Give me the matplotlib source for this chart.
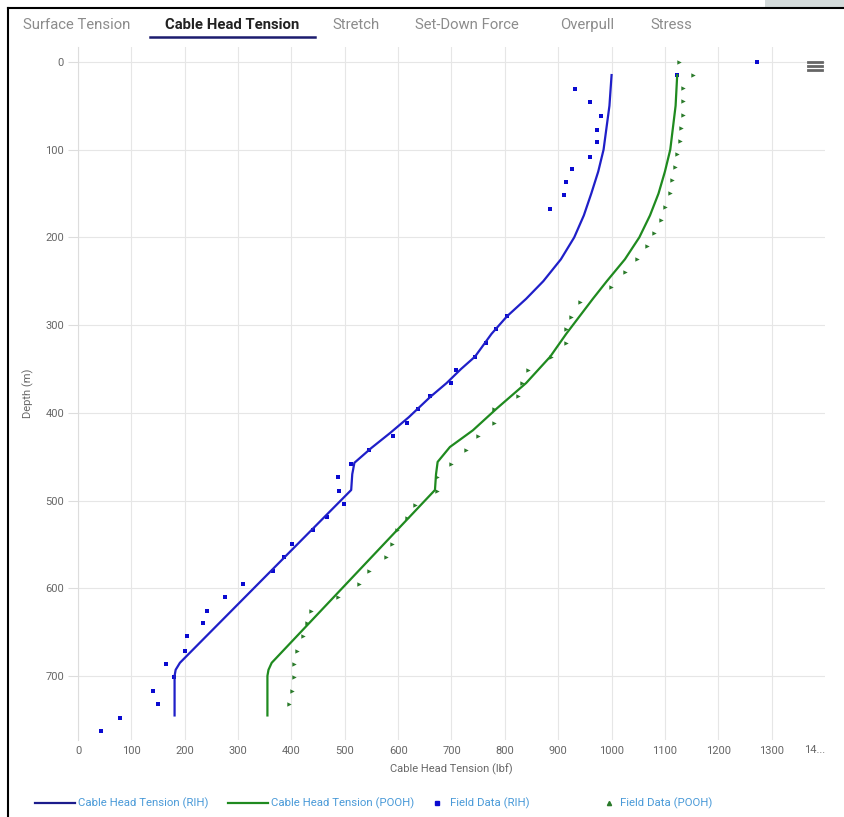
import matplotlib
matplotlib.use("Agg")
import matplotlib.pyplot as plt
from matplotlib.lines import Line2D
from matplotlib.patches import Rectangle

plt.rcParams['font.family'] = ['Roboto', 'DejaVu Sans']

# model curves (tension lbf vs depth m)
rih_line_depth = [15, 50, 100, 125, 150, 175, 200, 225, 250, 270, 290, 310, 336, 350, 366, 382, 405, 423, 440,
                  457, 470, 488, 685, 693, 700, 745]
rih_line = [1000, 996, 985, 975, 962, 948, 930, 905, 872, 840, 804, 775, 744, 718, 691, 660, 620, 585, 550,
            518, 514, 512, 191, 183, 181, 181]

pooh_line_depth = [15, 50, 100, 125, 150, 175, 200, 225, 250, 270, 290, 310, 336, 366, 395, 420, 439, 456, 470,
                   488, 685, 693, 700, 745]
pooh_line = [1123, 1120, 1110, 1100, 1088, 1072, 1052, 1025, 991, 965, 940, 915, 885, 840, 785, 740, 697, 674, 671,
             669, 363, 357, 355, 355]

# field data
rih_field_depth = [0, 15, 31, 46, 62, 78, 91, 108, 122, 137, 152, 168,
                   290, 305, 321, 336, 351, 366, 381, 396, 412, 427, 442, 458, 473, 489, 504, 519,
                   534, 550, 564, 580, 595, 610, 626, 640, 655, 672, 686, 701, 717, 732, 748, 763]
rih_field = [1272, 1123, 932, 960, 981, 972, 972, 960, 925, 915, 910, 885,
             804, 784, 764, 744, 708, 699, 660, 637, 617, 590, 545, 512, 487, 489, 498, 467,
             441, 402, 386, 366, 310, 275, 241, 235, 205, 201, 165, 180, 140, 149, 78, 44]

pooh_field_depth = [0, 15, 30, 45, 60, 75, 90, 105, 120, 135, 150, 165, 180, 195, 210, 225, 240, 257,
                    274, 291, 305, 320, 336, 351, 366, 381, 396, 412, 427, 442, 458, 473, 489,
                    505, 520, 534, 550, 564, 580, 595, 610, 626, 640, 655, 672, 686, 701, 717, 732]
pooh_field = [1127, 1153, 1133, 1133, 1133, 1131, 1129, 1122, 1118, 1114, 1109, 1101, 1092, 1080, 1066, 1048, 1025, 998,
              940, 924, 915, 915, 886, 844, 832, 824, 780, 779, 749, 727, 699, 672, 672,
              632, 617, 597, 588, 577, 546, 527, 487, 437, 430, 421, 410, 405, 405, 401, 396]

tabs = ["Surface Tension", "Cable Head Tension", "Stretch", "Set-Down Force", "Overpull", "Stress"]
tab_x = [23, 165, 332, 415, 560, 650]

W, H = 845, 817
fig = plt.figure(figsize=(W / 100, H / 100), dpi=100)


def fx(px):
    return px / W


def fy(py):
    return 1 - py / H


ax = fig.add_axes([fx(78), fy(740), fx(825) - fx(78), fy(47) - fy(740)])

blue = '#1f1fc8'
green = '#1f8a1f'
ax.plot(rih_line, rih_line_depth, color=blue, lw=1.6)
ax.plot(pooh_line, pooh_line_depth, color=green, lw=1.6)
ax.scatter(rih_field, rih_field_depth, marker='s', s=9, color='#0a0ad0', lw=0)
ax.scatter(pooh_field, pooh_field_depth, marker='>', s=10, color='#2a7a2a', lw=0)

ax.set_xlim(0, 1400)
ax.set_ylim(773, -17)
ax.set_xticks(range(0, 1400, 100))
ax.set_yticks(range(0, 800, 100))
ax.text(1400, -10 / 693, "14...", ha='right', va='center', fontsize=8, color='#666666',
        transform=ax.get_xaxis_transform())
ax.grid(True, color='#e6e6e6', lw=0.8)
ax.set_axisbelow(True)
for s in ['top', 'right', 'bottom']:
    ax.spines[s].set_visible(False)
ax.spines['left'].set_color('#dddddd')
ax.tick_params(axis='x', length=0, pad=4, labelsize=8, labelcolor='#666666')
ax.tick_params(axis='y', length=7, color='#dddddd', pad=3, labelsize=8, labelcolor='#666666')
ax.set_xlabel("Cable Head Tension (lbf)", fontsize=8, color='#666666', labelpad=6)
ax.set_ylabel("Depth (m)", fontsize=8, color='#666666', labelpad=8)

# tabs
for t, x in zip(tabs, tab_x):
    active = t == "Cable Head Tension"
    fig.text(fx(x), fy(25), t, fontsize=10.7, va='center', ha='left',
             color='#222222' if active else '#8c8c8c', fontweight='bold' if active else 'normal')
fig.add_artist(Line2D([fx(150), fx(315)], [fy(37), fy(37)], color='#1c1c6e', lw=1.8))

# screenshot frame
fig.add_artist(Line2D([fx(8), fx(8)], [fy(8), 0], color='black', lw=1.5))
fig.add_artist(Line2D([fx(8), 1], [fy(8), fy(8)], color='black', lw=1.5))
fig.add_artist(Rectangle((fx(765), fy(7)), 1 - fx(765), 1 - fy(7), color='#d3dada', lw=0))

# menu icon
for yy in [62, 66, 70]:
    fig.add_artist(Line2D([fx(808), fx(822)], [fy(yy), fy(yy)], color='#666666', lw=2))

# legend
ly = fy(803)
lc = '#4a9ad8'
fig.add_artist(Line2D([fx(35), fx(75)], [ly, ly], color='#1c1c8c', lw=1.6))
fig.text(fx(78), ly, "Cable Head Tension (RIH)", fontsize=8.2, va='center', color=lc)
fig.add_artist(Line2D([fx(228), fx(268)], [ly, ly], color=green, lw=1.6))
fig.text(fx(271), ly, "Cable Head Tension (POOH)", fontsize=8.2, va='center', color=lc)
fig.add_artist(Line2D([fx(437)], [ly], marker='s', ms=3, color='#0a0ad0', lw=0))
fig.text(fx(450), ly, "Field Data (RIH)", fontsize=8.2, va='center', color=lc)
fig.add_artist(Line2D([fx(609)], [ly], marker='^', ms=3, color='#2a7a2a', lw=0))
fig.text(fx(620), ly, "Field Data (POOH)", fontsize=8.2, va='center', color=lc)

fig.savefig("out.png", dpi=100)
